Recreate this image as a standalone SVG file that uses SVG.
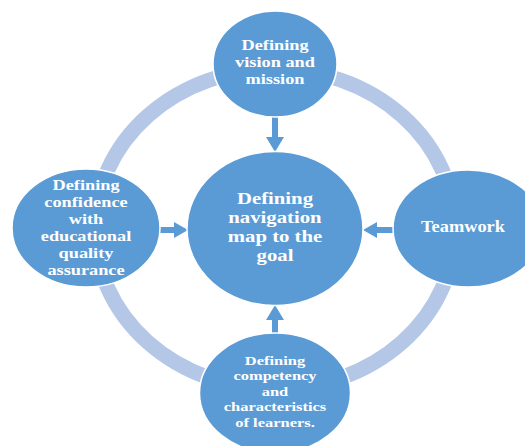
<svg xmlns="http://www.w3.org/2000/svg" width="525" height="446" viewBox="0 0 525 446">
<style>
.node{fill:#5b9bd5;stroke:#ffffff;stroke-width:1.5}
.ring{fill:none;stroke:#b4c7e7;stroke-width:15}
.arrow{fill:#5b9bd5}
.t{font-family:'Liberation Serif','DejaVu Serif',serif;font-weight:bold;fill:#ffffff;text-anchor:middle}
</style>
<rect width="525" height="446" fill="#ffffff"/>
<ellipse class="ring" cx="275" cy="229" rx="180" ry="160"/>
<g id="connectors">
<polygon class="arrow" points="272,117 278,117 278,137 284,137 275,152 266,137 272,137"/>
<polygon class="arrow" points="160,227 174,227 174,222 188,230 174,238 174,233 160,233"/>
<polygon class="arrow" points="394,227 377,227 377,222 363,230 377,238 377,233 394,233"/>
<polygon class="arrow" points="272,334 272,320 266,320 275,305 284,320 278,320 278,334"/>
</g>
<g id="node-vision">
<ellipse class="node" cx="275" cy="64" rx="62" ry="53"/>
<text class="t" font-size="15" transform="translate(275,0) scale(1.22,1)"><tspan x="0" y="50">Defining</tspan><tspan x="0" y="67">vision and</tspan><tspan x="0" y="84">mission</tspan></text>
</g>
<g id="node-center">
<ellipse class="node" cx="275" cy="228.5" rx="88" ry="77"/>
<text class="t" font-size="17" transform="translate(275,0) scale(1.22,1)"><tspan x="0" y="204">Defining</tspan><tspan x="0" y="223">navigation</tspan><tspan x="0" y="242">map to the</tspan><tspan x="0" y="261">goal</tspan></text>
</g>
<g id="node-confidence">
<ellipse class="node" cx="86" cy="228" rx="74" ry="59"/>
<text class="t" font-size="15" transform="translate(86,0) scale(1.22,1)"><tspan x="0" y="190">Defining</tspan><tspan x="0" y="207">confidence</tspan><tspan x="0" y="224">with</tspan><tspan x="0" y="241">educational</tspan><tspan x="0" y="258">quality</tspan><tspan x="0" y="275">assurance</tspan></text>
</g>
<g id="node-teamwork">
<ellipse class="node" cx="468" cy="228.5" rx="75" ry="58.5"/>
<text class="t" font-size="17" transform="translate(463,0) scale(1.08,1)" x="0" y="232">Teamwork</text>
</g>
<g id="node-competency">
<ellipse class="node" cx="275" cy="393" rx="75.5" ry="60"/>
<text class="t" font-size="13.5" transform="translate(275,0) scale(1.22,1)"><tspan x="0" y="365">Defining</tspan><tspan x="0" y="380.5">competency</tspan><tspan x="0" y="396">and</tspan><tspan x="0" y="411.5">characteristics</tspan><tspan x="0" y="427">of learners.</tspan></text>
</g>
</svg>
